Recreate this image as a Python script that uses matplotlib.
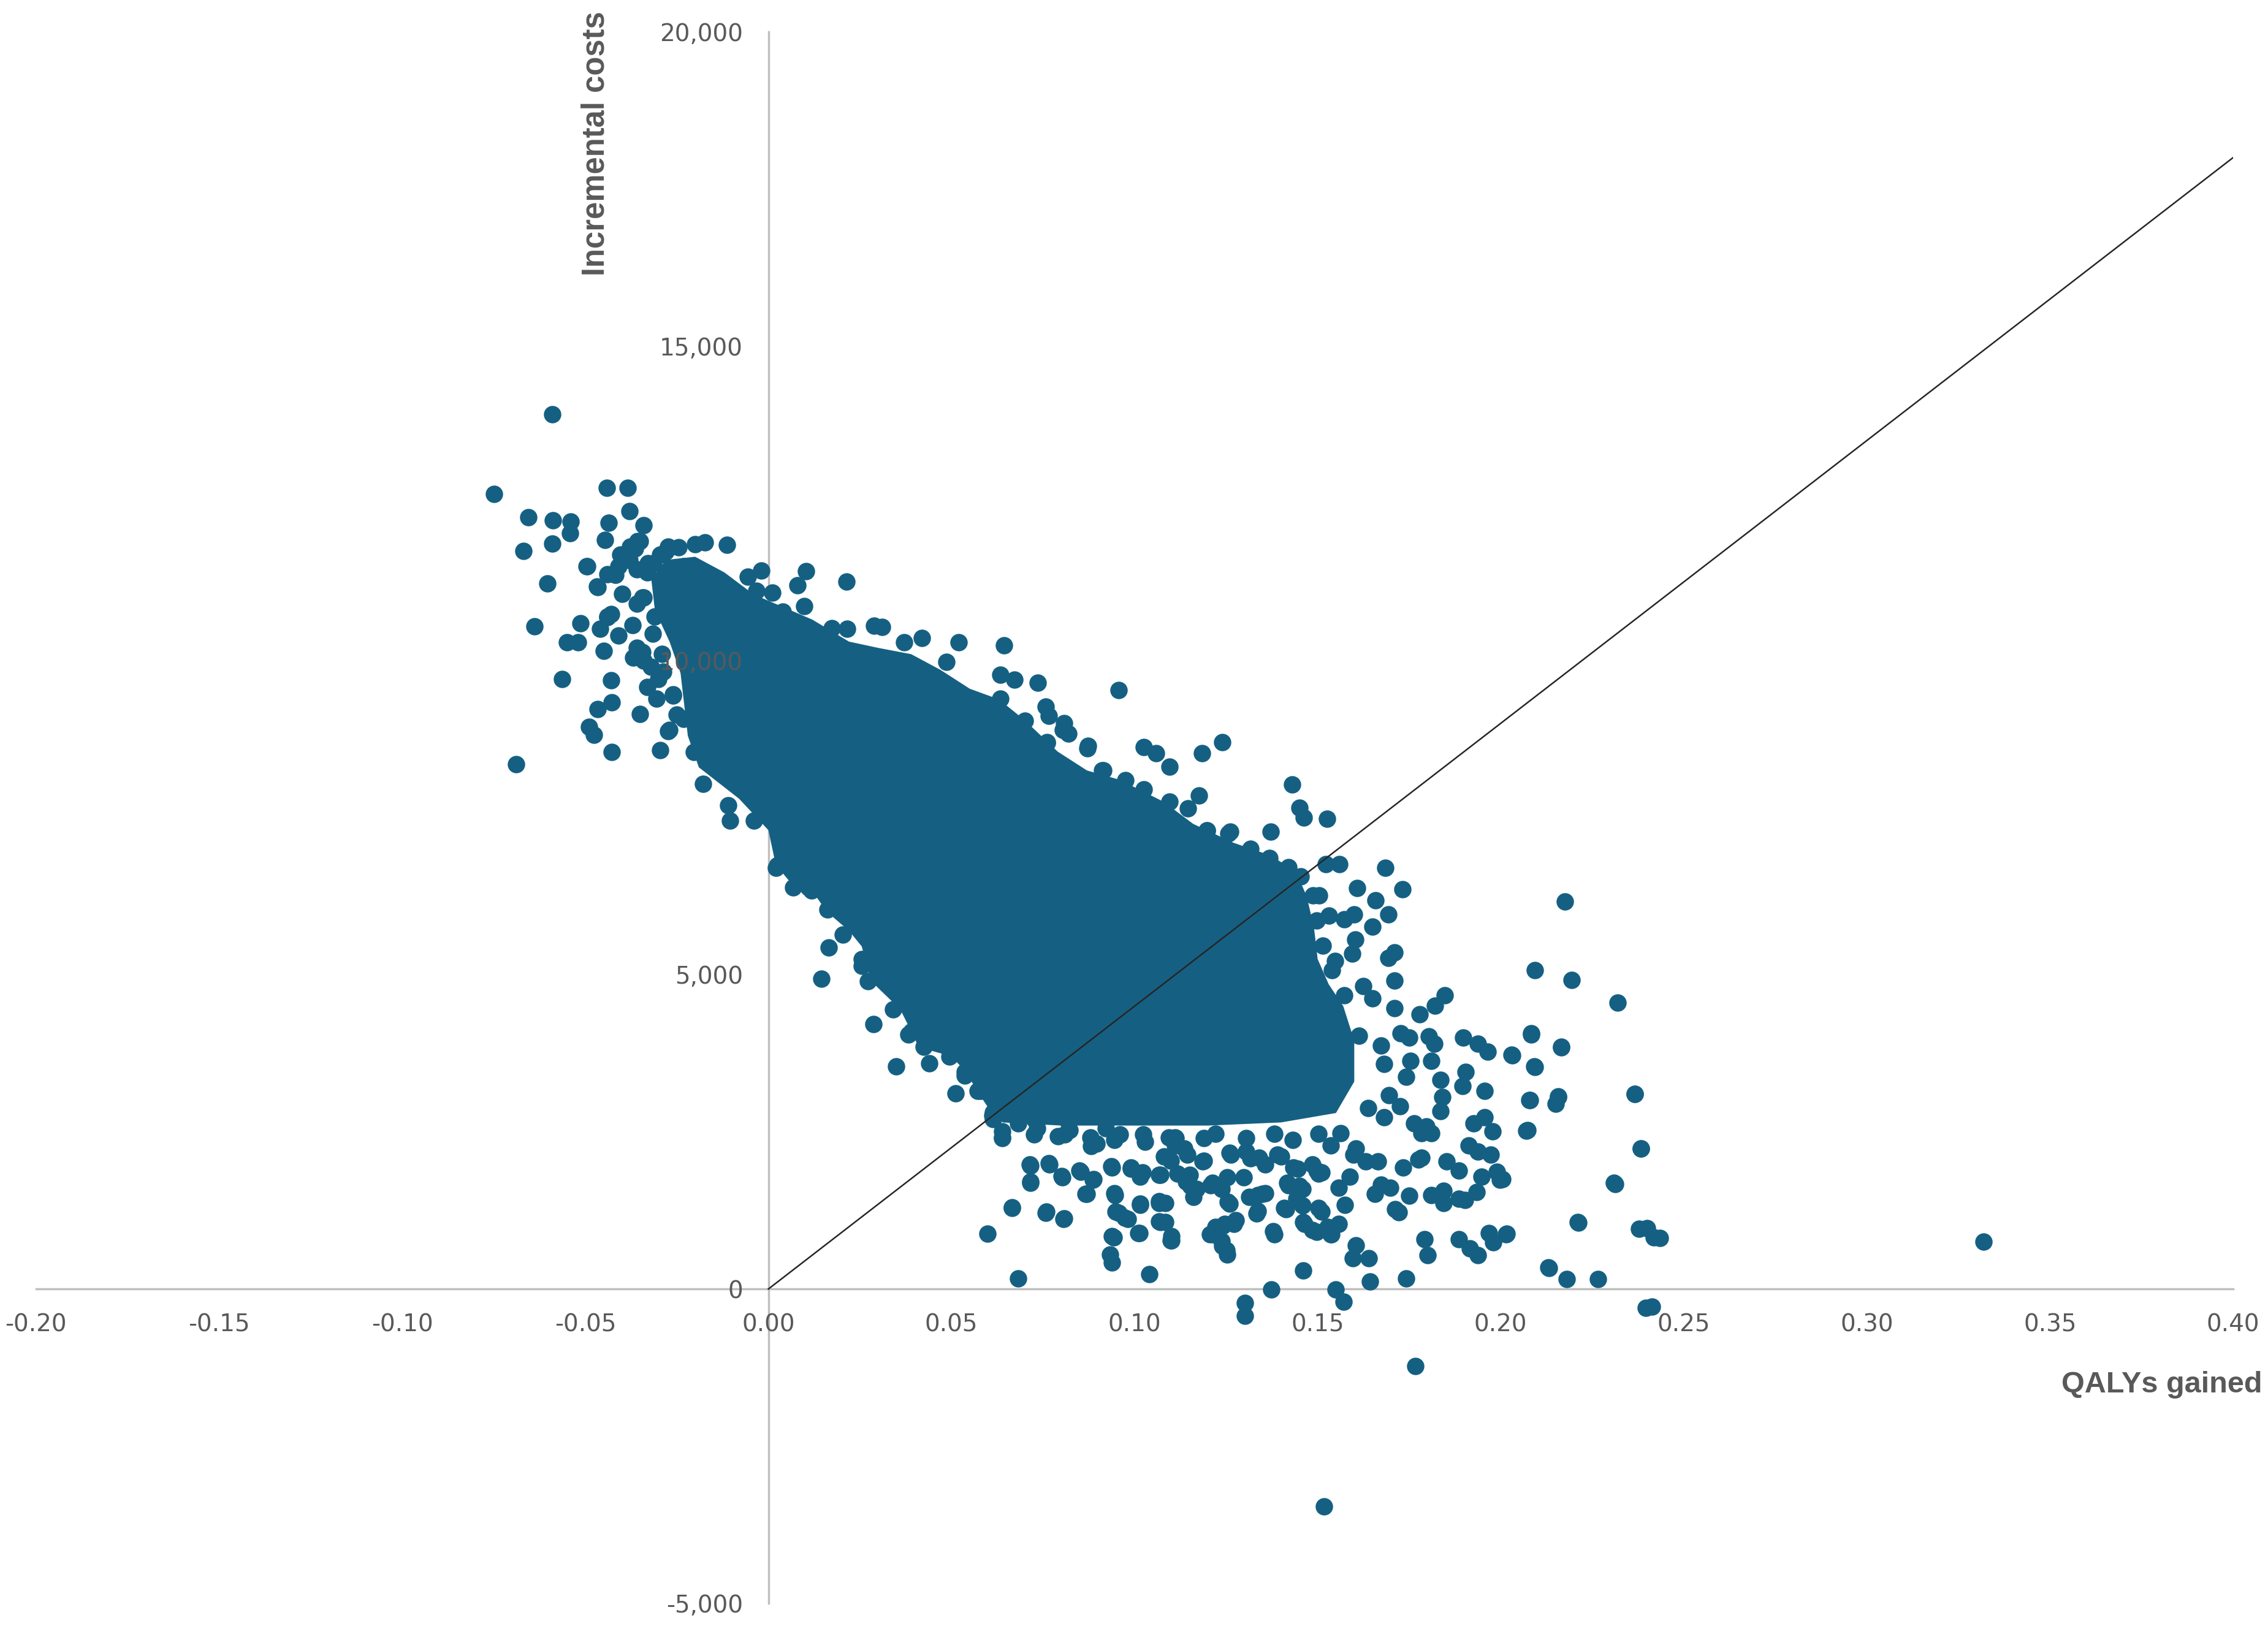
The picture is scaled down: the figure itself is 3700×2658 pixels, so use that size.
import matplotlib
matplotlib.use("Agg")
import matplotlib.pyplot as plt
import matplotlib.ticker as plticker
import numpy as np

plt.rcParams['axes.unicode_minus'] = False

# --- data --------------------------------------------------------------------
x_ticks = [-0.20, -0.15, -0.10, -0.05, 0.00, 0.05, 0.10, 0.15, 0.20, 0.25, 0.30, 0.35, 0.40]
y_ticks = [-5000, 0, 5000, 10000, 15000, 20000]

# willingness-to-pay line
wtp_qaly = [0.0, 0.40]
wtp_cost = [0.0, 18000]

# outline of the solid core of the cloud (points overlap completely there)
core_qaly = [-0.032, -0.028, -0.020, -0.012, -0.004, 0.004, 0.012, 0.022, 0.030, 0.039,
             0.047, 0.055, 0.063, 0.070, 0.079, 0.087, 0.096, 0.108, 0.116, 0.127,
             0.137, 0.144, 0.147, 0.149, 0.150, 0.153, 0.157, 0.160, 0.160, 0.155,
             0.140, 0.120, 0.100, 0.080, 0.064, 0.061, 0.057,
             0.054, 0.050, 0.041, 0.039, 0.036, 0.028, 0.0255, 0.022, 0.016, 0.012,
             0.007, 0.002, 0.000, -0.008, -0.019, -0.022, -0.023, -0.024, -0.027, -0.031]
core_cost = [11300, 11600, 11650, 11400, 11050, 10850, 10650, 10300, 10200, 10100,
             9850, 9550, 9380, 9050, 8550, 8250, 8100, 7750, 7400, 7100,
             6900, 6650, 6250, 5750, 5250, 4850, 4500, 3950, 3300, 2800,
             2650, 2600, 2600, 2600, 2650, 2800, 3150,
             3450, 3700, 3850, 4100, 4450, 4900, 5450, 5700, 6000, 6330,
             6400, 6750, 7300, 7800, 8300, 8800, 9300, 9800, 10300, 10800]

# individual simulations outside the core, (QALYs gained, incremental cost)
sims_upper_left = [
    (-0.0590, 13920), (-0.0750, 12650), (-0.0442, 12750), (-0.0384, 12750), (-0.0655, 12280),
    (-0.0588, 12230), (-0.0540, 12210), (-0.0542, 12020), (-0.0380, 12380), (-0.0437, 12190),
    (-0.0340, 12150), (-0.0590, 11860), (-0.0669, 11740), (-0.0446, 11920), (-0.0495, 11500),
    (-0.0603, 11230), (-0.0467, 11170), (-0.0417, 11360), (-0.0399, 11630), (-0.0365, 11780),
    (-0.0350, 11900), (-0.0638, 10540), (-0.0514, 10590), (-0.0550, 10290), (-0.0520, 10290),
    (-0.0450, 10150), (-0.0429, 10740), (-0.0370, 10050), (-0.0563, 9700), (-0.0429, 9680),
    (-0.0331, 9580), (-0.0467, 9230), (-0.0427, 9330), (-0.0350, 9150), (-0.0489, 8940),
    (-0.0476, 8820), (-0.0427, 8540), (-0.0296, 8570), (-0.0689, 8350), (-0.0305, 9390),
    (-0.0260, 9460), (-0.0271, 8890), (-0.0250, 9140), (-0.0410, 11500), (-0.0380, 11600),
    (-0.0360, 11450), (-0.0330, 11400), (-0.0460, 10500), (-0.0440, 10700), (-0.0410, 10400),
    (-0.0360, 10900), (-0.0340, 11000), (-0.0310, 10700), (-0.0360, 10200), (-0.0340, 10000),
    (-0.0320, 9900), (-0.0290, 10100), (-0.0300, 9700),
    (-0.0405, 11680), (-0.0378, 11810), (-0.0357, 11900), (-0.0329, 11550), (-0.0295, 11680),
    (-0.0273, 11810), (-0.0232, 11500), (-0.0440, 11370), (-0.0496, 11500), (-0.0468, 11180),
    (-0.0399, 11060), (-0.0344, 11000), (-0.0440, 10690), (-0.0371, 10560), (-0.0315, 10430),
    (-0.0344, 10130), (-0.0288, 9820), (-0.0260, 9440), (-0.0232, 9070), (-0.0273, 8880),
    (-0.0203, 8540), (-0.0178, 8040), (-0.0109, 7700), (-0.0040, 7450), (0.0020, 6700),
]
sims_upper_edge = [
    (-0.0113, 11840), (-0.0173, 11880), (-0.0200, 11850), (-0.0245, 11800), (-0.0280, 11730),
    (-0.0314, 11550), (-0.0019, 11430), (-0.0057, 11330), (-0.0032, 11110), (0.0011, 11080),
    (0.0103, 11420), (0.0079, 11200), (0.0214, 11250), (0.0098, 10860), (0.0040, 10780),
    (0.0173, 10510), (0.0215, 10500), (0.0288, 10550), (0.0310, 10530), (0.0370, 10290),
    (0.0420, 10360), (0.0520, 10290), (0.0486, 9980), (0.0643, 10240), (0.0633, 9770),
    (0.0672, 9690), (0.0735, 9650), (0.0757, 9270), (0.0766, 9120), (0.0808, 9000),
    (0.0820, 8840), (0.0761, 8690), (0.0873, 8640), (0.0956, 9525), (0.1026, 8620),
    (0.1059, 8520), (0.1095, 8310), (0.1184, 8520), (0.1240, 8700), (0.1176, 7850),
    (0.0911, 8250), (0.1430, 8025), (0.1450, 7660), (0.1462, 7500), (0.1526, 7480),
    (0.1372, 7280), (0.1261, 7280), (0.1198, 7300), (0.1522, 6760), (0.1560, 6760),
    (0.1684, 6700), (0.1607, 6380), (0.1731, 6360), (0.1504, 6260), (0.1658, 6180),
    (0.1530, 5940), (0.1573, 5880), (0.1599, 5960), (0.1693, 5960), (0.1650, 5760),
    (0.1603, 5560), (0.1595, 5340), (0.1710, 5360), (0.1693, 5265), (0.1710, 4910),
    (0.1548, 5220), (0.1625, 4820), (0.1650, 4620), (0.1710, 4470), (0.1778, 4370),
    (0.1847, 4670), (0.1820, 4510), (0.1727, 4070), (0.1804, 4020),
    (0.0633, 9390), (0.0701, 9040), (0.0761, 8700), (0.0804, 8890), (0.0872, 8600),
    (0.0915, 8250), (0.0975, 8100), (0.1026, 7950), (0.1095, 7750), (0.1146, 7650),
    (0.1197, 7300), (0.1257, 7250), (0.1317, 7000), (0.1368, 6860), (0.1420, 6710),
    (0.1454, 6560), (0.1488, 6260), (0.1497, 5860), (0.1514, 5460), (0.1539, 5070),
    (0.1573, 4670),
]
sims_lower_left = [
    (0.0165, 5430), (0.0145, 4940), (0.0287, 4210), (0.0349, 3540), (0.0440, 3590),
    (0.0511, 3110), (0.0716, 1960), (0.0716, 1710), (0.0767, 1980), (0.0802, 1780),
    (0.0853, 1860), (0.0887, 1735), (0.0866, 1510), (0.0938, 1935), (0.0990, 1910),
    (0.1015, 1785), (0.1067, 1815), (0.0946, 1490), (0.0956, 1215), (0.0982, 1110),
    (0.0943, 820), (0.1015, 1335), (0.1011, 890), (0.1067, 1365), (0.1070, 1065),
    (0.1100, 775), (0.0665, 1285), (0.0757, 1215), (0.0806, 1110), (0.0599, 875),
    (0.0938, 420), (0.0682, 168), (0.1040, 240), (0.1140, 1710), (0.1080, 2105),
    (0.0067, 6390), (0.0118, 6340), (0.0024, 6740), (-0.0104, 7455), (0.0255, 5140),
    (0.0390, 4100), (0.0537, 3450), (0.0571, 3150), (0.0613, 2700), (0.0639, 2410),
    (0.0725, 2460), (0.0810, 2460), (0.0896, 2310), (0.1023, 2460), (0.1110, 2410),
    (0.1160, 1460), (0.0682, 2810), (0.0734, 2555), (0.0819, 2655), (0.0879, 2410),
    (0.0921, 2555), (0.0960, 2460), (0.1067, 2760), (0.1094, 2410),
    (0.0109, 6390), (0.0161, 6040), (0.0204, 5640), (0.0255, 5250), (0.0272, 4900),
    (0.0340, 4450), (0.0383, 4050), (0.0425, 3850), (0.0494, 3700), (0.0537, 3400),
    (0.0580, 3150), (0.0613, 2810), (0.0639, 2510),
    (0.0714, 1980), (0.0715, 1690), (0.0766, 2000), (0.0801, 1800), (0.0850, 1880),
    (0.0888, 1750), (0.0869, 1510), (0.0936, 1950), (0.0990, 1930), (0.1022, 1850),
    (0.1070, 1820), (0.1099, 2040), (0.1150, 1820), (0.1163, 1590), (0.1189, 2040),
    (0.1208, 1650), (0.1253, 1780), (0.1298, 1780), (0.1259, 1360), (0.1336, 1490),
    (0.1356, 1520), (0.1333, 1200), (0.1420, 1650), (0.1458, 1590), (0.1413, 1265),
    (0.1458, 1330), (0.1464, 1040), (0.1510, 1230), (0.1510, 1850), (0.1497, 907),
    (0.1535, 874), (0.1381, 874), (0.1272, 1040), (0.1215, 874), (0.1240, 680),
    (0.1253, 550), (0.1099, 776), (0.1067, 1070), (0.1067, 1395), (0.1016, 1362),
    (0.1013, 890), (0.0945, 1524), (0.0948, 1232), (0.0974, 1135), (0.0939, 841),
    (0.0933, 549), (0.0759, 1232), (0.0807, 1119), (0.0666, 1297),
    (0.0612, 2760), (0.0638, 2400), (0.0682, 2630), (0.0727, 2690), (0.0791, 2430),
    (0.0823, 2530), (0.0881, 2270), (0.0945, 2370), (0.1028, 2340), (0.1112, 2400),
    (0.1144, 2140), (0.1189, 2400), (0.1259, 2170), (0.1317, 2080), (0.1356, 1980),
    (0.1400, 2110), (0.1445, 1910), (0.1497, 1880), (0.1503, 2470), (0.1432, 2370),
    (0.1381, 2470), (0.1304, 2400), (0.1221, 2470),
]
sims_lower_right = [
    (0.1613, 4025), (0.1750, 4000), (0.1818, 3900), (0.1898, 4000), (0.1938, 3900),
    (0.1964, 3776), (0.2030, 3726), (0.2084, 4050), (0.2165, 3850), (0.2092, 3537),
    (0.1673, 3876), (0.1682, 3577), (0.1754, 3627), (0.1810, 3627), (0.1741, 3378),
    (0.1835, 3329), (0.1904, 3453), (0.1896, 3229), (0.1956, 3154), (0.1695, 3079),
    (0.1840, 3055), (0.1725, 2905), (0.1835, 2831), (0.2079, 3005), (0.2157, 3055),
    (0.2366, 3104), (0.1956, 2731), (0.1926, 2632), (0.1977, 2508), (0.2073, 2523),
    (0.1763, 2632), (0.1797, 2582), (0.1784, 2483), (0.1810, 2483), (0.1913, 2284),
    (0.1938, 2184), (0.1972, 2135), (0.2383, 2234), (0.1852, 2035), (0.1886, 1886),
    (0.1784, 2085), (0.1947, 1787), (0.1990, 1861), (0.1998, 1737), (0.2310, 1687),
    (0.1934, 1538), (0.1810, 1498), (0.1844, 1563), (0.1844, 1363), (0.1886, 1438),
    (0.1903, 1413), (0.1673, 1662), (0.1699, 1613), (0.1750, 1488), (0.1656, 1513),
    (0.1712, 1269), (0.1721, 1219), (0.1558, 1613), (0.1575, 1338), (0.1588, 1787),
    (0.1597, 2135), (0.1631, 2035), (0.1733, 1936), (0.1776, 2060), (0.1502, 1288),
    (0.1527, 990), (0.1486, 941), (0.1460, 1065), (0.1558, 1040), (0.1537, 866),
    (0.1408, 1288), (0.1336, 1239), (0.1314, 1463), (0.1348, 1513), (0.1442, 1438),
    (0.1451, 1637), (0.1417, 1687), (0.1255, 1388), (0.1238, 1587), (0.1276, 1090),
    (0.1221, 990), (0.1247, 1040), (0.1238, 767), (0.1251, 617), (0.1378, 916),
    (0.1101, 841), (0.1084, 1065), (0.1084, 1363), (0.1152, 1637), (0.1186, 2035),
    (0.1135, 2234), (0.1605, 691), (0.1596, 492), (0.1639, 492), (0.1460, 294),
    (0.1643, 120), (0.1741, 170), (0.1792, 791), (0.1801, 542), (0.1886, 791),
    (0.1916, 642), (0.1938, 542), (0.1967, 891), (0.1980, 741), (0.2014, 866),
    (0.2211, 1065), (0.2130, 343), (0.2180, 160), (0.2400, 966), (0.2434, 816),
    (0.2413, -278), (0.1374, -10), (0.1301, -225), (0.1301, -424), (0.1549, -10),
    (0.1571, -204), (0.1767, -1226), (0.1518, -3463), (0.1206, 868), (0.1241, 1004),
    (0.1110, 2284), (0.1144, 1737), (0.1212, 1687), (0.1263, 2135), (0.1305, 2184),
    (0.1340, 2085), (0.1391, 2135), (0.1434, 1936), (0.1485, 1986), (0.1502, 1836),
    (0.1536, 2284), (0.1562, 2483), (0.1604, 2234), (0.1664, 2035), (0.1638, 2881),
    (0.1681, 2731), (0.1118, 1836), (0.1169, 1587),
]
sims_far_right = [
    (0.2176, 6166), (0.2093, 5075), (0.2194, 4918), (0.2320, 4560), (0.2084, 4068),
    (0.2166, 3844), (0.2031, 3715), (0.2093, 3535), (0.2080, 3004), (0.2157, 3060),
    (0.2151, 2948), (0.2366, 3105), (0.2070, 2517), (0.2383, 2232), (0.2005, 1745),
    (0.2313, 1672), (0.2212, 1056), (0.2017, 877), (0.2378, 961), (0.2418, 821),
    (0.2132, 334), (0.2265, 161), (0.2396, -298), (0.3318, 749),
]

# --- plot --------------------------------------------------------------------
dot_color = '#156082'
text_color = '#595959'
axis_color = '#bfbfbf'

fig = plt.figure(figsize=(37, 26.58), dpi=100)
ax = fig.add_axes([0.0159, 0.0158, 0.9687, 0.9646])

ax.fill(core_qaly, core_cost, color=dot_color, linewidth=0, zorder=2)

all_sims = sims_upper_left + sims_upper_edge + sims_lower_left + sims_lower_right + sims_far_right
sim_qaly = np.array([p[0] for p in all_sims])
sim_cost = np.array([p[1] for p in all_sims])
ax.scatter(sim_qaly, sim_cost, s=420, color=dot_color, linewidths=0, zorder=2)

ax.plot(wtp_qaly, wtp_cost, color='#262626', linewidth=1.8, zorder=3)

ax.set_xlim(-0.20, 0.40)
ax.set_ylim(-5000, 20000)
ax.set_xticks(x_ticks)
ax.set_yticks(y_ticks)
ax.xaxis.set_major_formatter(plticker.FuncFormatter(lambda v, _: "%.2f" % v))
ax.yaxis.set_major_formatter(plticker.FuncFormatter(lambda v, _: "{:,.0f}".format(v)))

# tick labels sit on top of the points, axis lines underneath
ax.set_axisbelow(False)
ax.spines['left'].set_position(('data', 0))
ax.spines['bottom'].set_position(('data', 0))
ax.spines['right'].set_visible(False)
ax.spines['top'].set_visible(False)
for side in ['left', 'bottom']:
    ax.spines[side].set_color(axis_color)
    ax.spines[side].set_linewidth(2.5)
    ax.spines[side].set_zorder(1)

ax.tick_params(axis='x', length=0, pad=28, labelsize=28, labelcolor=text_color)
ax.tick_params(axis='y', length=0, pad=30, labelsize=28, labelcolor=text_color)
ax.patch.set_visible(False)

fig.text(0.2627, 0.993, "Incremental costs", rotation=90, ha='center', va='top',
         fontsize=36.5, fontweight='bold', color=text_color, family='Liberation Sans')
fig.text(0.9973, 0.1452, "QALYs gained", ha='right', va='baseline',
         fontsize=35, fontweight='bold', color=text_color, family='Liberation Sans')

fig.savefig("out.png", dpi=100)
